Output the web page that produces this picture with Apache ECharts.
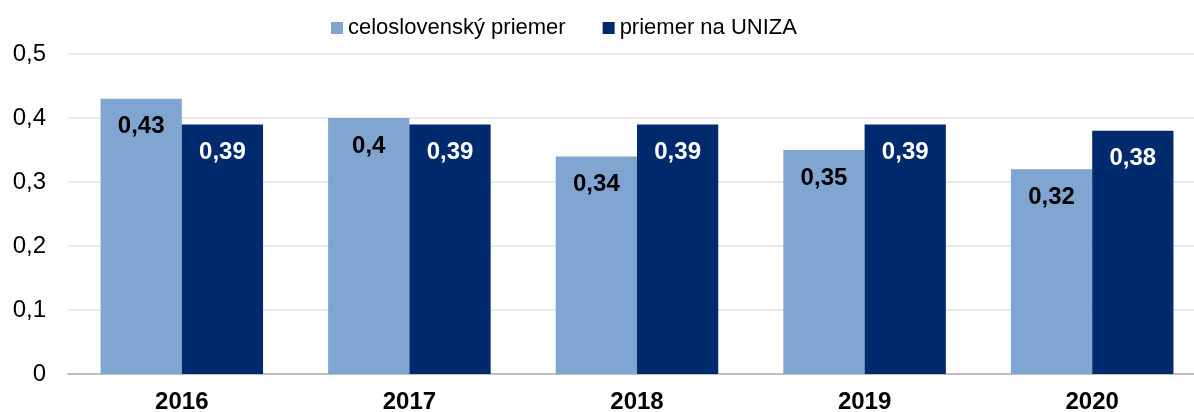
<!DOCTYPE html>
<html>
<head>
<meta charset="utf-8">
<script src="https://cdn.jsdelivr.net/npm/echarts@6/dist/echarts.min.js"></script>
<style>
  html, body { margin: 0; padding: 0; background: #fff; }
  #chart { width: 1194px; height: 412px; }
</style>
</head>
<body>
<div id="chart"></div>
<script>
var years = ['2016', '2017', '2018', '2019', '2020'];
var slovakAvg = [0.43, 0.4, 0.34, 0.35, 0.32];
var unizaAvg = [0.39, 0.39, 0.39, 0.39, 0.38];
var seriesNames = ['celoslovenský priemer', 'priemer na UNIZA'];

var comma = function (v) {
  return String(v).replace('.', ',');
};

var chart = echarts.init(document.getElementById('chart'));

var option = {
  animation: false,
  textStyle: { fontFamily: 'Liberation Sans, Arial, sans-serif' },
  legend: {
    top: 12,
    left: 326,
    itemWidth: 12,
    itemHeight: 12,
    itemGap: 37,
    icon: 'rect',
    textStyle: { fontSize: 22, color: '#000' },
    data: seriesNames
  },
  // plot runs past the right edge, as in the original picture
  grid: { left: 68, right: -12, top: 54, bottom: 38, outerBoundsMode: 'none', containLabel: false },
  xAxis: {
    type: 'category',
    data: years,
    axisTick: { show: false },
    axisLine: { lineStyle: { color: '#bfbfbf', width: 2 } },
    axisLabel: { fontSize: 24, fontWeight: 'bold', color: '#000', margin: 16 }
  },
  yAxis: {
    type: 'value',
    min: 0,
    max: 0.5,
    interval: 0.1,
    axisLabel: { fontSize: 24, color: '#000', margin: 22, formatter: comma },
    splitLine: { lineStyle: { color: '#e0e0e0', width: 1.5 } }
  },
  series: [
    {
      name: seriesNames[0],
      type: 'bar',
      data: slovakAvg,
      barGap: '0%',
      barCategoryGap: '28.6%',
      itemStyle: { color: '#7fa5d0' },
      label: {
        show: true,
        position: 'insideTop',
        distance: 16,
        fontSize: 24,
        fontWeight: 'bold',
        color: '#000',
        formatter: function (p) { return comma(p.value); }
      }
    },
    {
      name: seriesNames[1],
      type: 'bar',
      data: unizaAvg,
      itemStyle: { color: '#002a6e' },
      label: {
        show: true,
        position: 'insideTop',
        distance: 16,
        fontSize: 24,
        fontWeight: 'bold',
        color: '#fff',
        formatter: function (p) { return comma(p.value); }
      }
    }
  ]
};

chart.setOption(option);
</script>
</body>
</html>
